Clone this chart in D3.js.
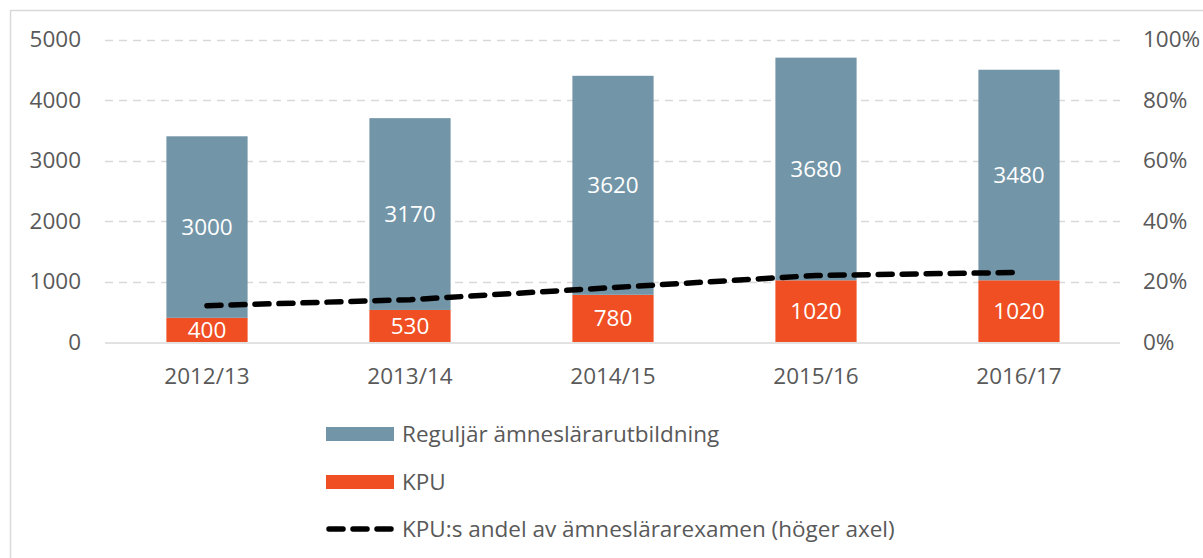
<!DOCTYPE html>
<html>
<head>
<meta charset="utf-8">
<script src="https://cdn.jsdelivr.net/npm/d3@7"></script>
<style>
  body { margin: 0; background: #fff; }
  text { font-family: "Open Sans", "Liberation Sans", sans-serif; }
</style>
</head>
<body>
<div id="viz"></div>
<script>
var years = ['2012/13', '2013/14', '2014/15', '2015/16', '2016/17'];
var kpu = [400, 530, 780, 1020, 1020];
var regular = [3000, 3170, 3620, 3680, 3480];
var kpuShare = [12, 14, 18, 22, 23];   // procent, höger axel
var leftTicks = [0, 1000, 2000, 3000, 4000, 5000];
var rightTicks = [0, 20, 40, 60, 80, 100];
var legendLabels = ['Reguljär ämneslärarutbildning', 'KPU', 'KPU:s andel av ämneslärarexamen (höger axel)'];

var width = 1203,
    height = 558;

var blue = '#7295a8',
    red = '#f04e23',
    grey = '#595959',
    fs = '22.5px';

var svg = d3.select('#viz').append('svg')
  .attr('width', width)
  .attr('height', height)

// ram
svg.append('rect')
  .attr('x', 10.5).attr('y', 10.5)
  .attr('width', 1220).attr('height', 600)
  .attr('fill', 'none')
  .attr('stroke', '#d9d9d9')
  .attr('stroke-width', 1.5)

var x = d3.scaleBand()
  .domain(years)
  .range([105.5, 1120.5])
  .paddingInner(0.6)
  .paddingOuter(0.3)

var y = d3.scaleLinear()
  .domain([0, 5000])
  .range([342, 39.5])

var y2 = d3.scaleLinear()
  .domain([0, 100])
  .range([342, 39.5])

// gridlines
svg.append('g').selectAll('line')
  .data(leftTicks.filter(function(d){ return d > 0 }))
  .enter().append('line')
  .attr('x1', 105).attr('x2', 1120)
  .attr('y1', function(d){ return Math.round(y(d)) + 0.5 })
  .attr('y2', function(d){ return Math.round(y(d)) + 0.5 })
  .attr('stroke', '#d9d9d9')
  .attr('stroke-width', 1.3)
  .attr('stroke-dasharray', '8,6')

var leftAxis = d3.axisLeft(y).tickValues(leftTicks).tickSize(0).tickPadding(0)
  .tickFormat(d3.format('d'));
var gl = svg.append('g').attr('transform', 'translate(81,0)').call(leftAxis);
gl.select('.domain').remove();
gl.selectAll('text').attr('fill', grey).style('font-size', fs);

var rightAxis = d3.axisRight(y2).tickValues(rightTicks).tickSize(0).tickPadding(0)
  .tickFormat(function(d){ return d + '%' });
var gr = svg.append('g').attr('transform', 'translate(1143,0)').call(rightAxis);
gr.select('.domain').remove();
gr.selectAll('text').attr('fill', grey).style('font-size', fs);

// bars
var bars = svg.append('g');
bars.selectAll('.kpu')
  .data(years)
  .enter().append('rect')
  .attr('class', 'kpu')
  .attr('x', function(d){ return x(d) })
  .attr('width', x.bandwidth())
  .attr('y', function(d, i){ return y(kpu[i]) })
  .attr('height', function(d, i){ return y(0) - y(kpu[i]) })
  .attr('fill', red)

bars.selectAll('.reg')
  .data(years)
  .enter().append('rect')
  .attr('class', 'reg')
  .attr('x', function(d){ return x(d) })
  .attr('width', x.bandwidth())
  .attr('y', function(d, i){ return y(kpu[i] + regular[i]) })
  .attr('height', function(d, i){ return y(kpu[i]) - y(kpu[i] + regular[i]) })
  .attr('fill', blue)

// baseline
svg.append('line')
  .attr('x1', 105).attr('x2', 1120)
  .attr('y1', 343).attr('y2', 343)
  .attr('stroke', '#d9d9d9')
  .attr('stroke-width', 1.5)

// value labels
svg.append('g').selectAll('text')
  .data(years)
  .enter().append('text')
  .attr('x', function(d){ return x(d) + x.bandwidth()/2 })
  .attr('y', function(d, i){ return (y(kpu[i]) + y(kpu[i] + regular[i]))/2 })
  .attr('dy', '0.35em')
  .attr('text-anchor', 'middle')
  .attr('fill', '#fff')
  .style('font-size', fs)
  .text(function(d, i){ return regular[i] })

svg.append('g').selectAll('text')
  .data(years)
  .enter().append('text')
  .attr('x', function(d){ return x(d) + x.bandwidth()/2 })
  .attr('y', function(d, i){ return (y(0) + y(kpu[i]))/2 })
  .attr('dy', '0.35em')
  .attr('text-anchor', 'middle')
  .attr('fill', '#fff')
  .style('font-size', fs)
  .text(function(d, i){ return kpu[i] })

// category labels
svg.append('g').selectAll('text')
  .data(years)
  .enter().append('text')
  .attr('x', function(d){ return x(d) + x.bandwidth()/2 })
  .attr('y', 384)
  .attr('text-anchor', 'middle')
  .attr('fill', grey)
  .style('font-size', fs)
  .text(function(d){ return d })

// share line
var line = d3.line()
  .x(function(d, i){ return x(years[i]) + x.bandwidth()/2 })
  .y(function(d){ return y2(d) })

svg.append('path')
  .datum(kpuShare)
  .attr('d', line)
  .attr('fill', 'none')
  .attr('stroke', '#000')
  .attr('stroke-width', 5.5)
  .attr('stroke-linecap', 'round')
  .attr('stroke-dasharray', '14,10')

// legend
var legend = svg.append('g');
var ly = [434, 482, 529];

legend.append('rect')
  .attr('x', 326).attr('y', ly[0] - 7)
  .attr('width', 68).attr('height', 14)
  .attr('fill', blue)
legend.append('rect')
  .attr('x', 326).attr('y', ly[1] - 7)
  .attr('width', 68).attr('height', 14)
  .attr('fill', red)
legend.append('line')
  .attr('x1', 329).attr('x2', 391)
  .attr('y1', ly[2]).attr('y2', ly[2])
  .attr('stroke', '#000')
  .attr('stroke-width', 5.5)
  .attr('stroke-linecap', 'round')
  .attr('stroke-dasharray', '14,10')

legend.selectAll('text')
  .data(legendLabels)
  .enter().append('text')
  .attr('x', 402)
  .attr('y', function(d, i){ return ly[i] })
  .attr('dy', '0.35em')
  .attr('fill', grey)
  .style('font-size', fs)
  .text(function(d){ return d })
</script>
</body>
</html>
